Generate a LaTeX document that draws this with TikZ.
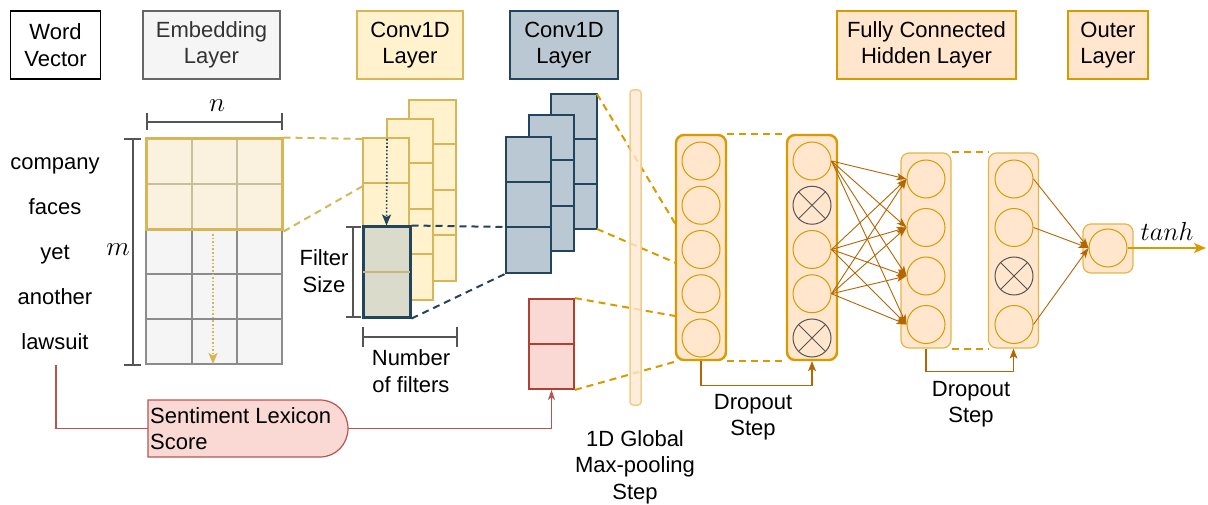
\documentclass[tikz,border=0pt]{standalone}
\usepackage{fontspec}
\setmainfont{Liberation Sans}
\usetikzlibrary{arrows.meta}

\definecolor{yelS}{HTML}{D6B656}
\definecolor{yelF}{HTML}{FFF2CC}
\definecolor{cellY}{HTML}{FAF2DE}
\definecolor{cellLine}{HTML}{C9BF9F}
\definecolor{blueS}{HTML}{23445D}
\definecolor{blueF}{HTML}{BAC8D3}
\definecolor{oraS}{HTML}{D79B00}
\definecolor{oraF}{HTML}{FFE6CC}
\definecolor{oraT}{HTML}{E3B54A}
\definecolor{brownA}{HTML}{B46504}
\definecolor{redS}{HTML}{AE4132}
\definecolor{redF}{HTML}{FAD9D5}
\definecolor{redL}{HTML}{B85450}
\definecolor{embF}{HTML}{F5F5F5}
\definecolor{embS}{HTML}{666666}
\definecolor{embT}{HTML}{333333}
\definecolor{gridG}{HTML}{8C8C8C}
\definecolor{filtF}{HTML}{DADBCA}
\definecolor{filtL}{HTML}{C4B583}
\definecolor{poolF}{HTML}{FFE9D2}
\definecolor{poolS}{HTML}{F2CD8A}
\definecolor{dimG}{HTML}{555555}

\begin{document}
\begin{tikzpicture}[x=1pt,y=-1pt,
  font=\fontsize{22}{26.5}\selectfont,
  hdr/.style={draw, line width=1.8pt, align=center, inner sep=0pt, minimum height=68pt},
  word/.style={inner sep=0pt, text height=15.8pt, text depth=4.6pt},
  lbl/.style={align=center, inner sep=0pt},
  mathlbl/.style={inner sep=0pt, font=\fontsize{24.88}{30}\selectfont},
  dim/.style={draw=dimG, line width=1.2pt},
  cellyel/.style={draw=yelS, fill=yelF, line width=1.8pt},
  cellblue/.style={draw=blueS, fill=blueF, line width=1.8pt},
  yeldash/.style={draw=yelS, line width=2pt, dash pattern=on 7pt off 5pt},
  bluedash/.style={draw=blueS, line width=2pt, dash pattern=on 7pt off 5pt},
  oradash/.style={draw=oraS, line width=2pt, dash pattern=on 7pt off 5pt},
  densebox/.style={draw=oraS, fill=oraF, line width=2.4pt, rounded corners=8pt, minimum width=50pt, inner sep=0pt},
  thinbox/.style={draw=oraT, fill=oraF, line width=1.2pt, rounded corners=8pt, minimum width=50pt, inner sep=0pt},
  neuron/.style={circle, draw=oraS, line width=1pt, minimum size=38pt, inner sep=0pt},
  dropped/.style={circle, draw=dimG, line width=1pt, minimum size=38pt, inner sep=0pt},
  tip/.style={-{Stealth[length=11pt,width=9pt,inset=2.5pt]}},
  fc/.style={draw=brownA, line width=0.9pt, -{Stealth[length=10pt,width=7pt,inset=2.5pt]}},
  drop/.style={draw=brownA, line width=1.1pt, -{Stealth[length=10pt,width=8pt,inset=2.5pt]}}
]
\useasboundingbox (0,0) rectangle (1208,505);

% ---------- layer headers ----------
\node[hdr, draw=black, fill=white, minimum width=90pt] (hWord) at (55.5,45) {Word\\Vector};
\node[hdr, draw=embS, fill=embF, text=embT, minimum width=137pt] (hEmb) at (211.5,45) {Embedding\\Layer};
\node[hdr, draw=yelS, fill=yelF, minimum width=106pt] (hConvA) at (410,45) {Conv1D\\Layer};
\node[hdr, draw=blueS, fill=blueF, minimum width=108pt] (hConvB) at (564,45) {Conv1D\\Layer};
\node[hdr, draw=oraS, fill=oraF, minimum width=179pt] (hFC) at (926.5,45) {Fully Connected\\Hidden Layer};
\node[hdr, draw=oraS, fill=oraF, minimum width=80pt] (hOut) at (1108,45) {Outer\\Layer};

% ---------- input words ----------
\node[word] (w1) at (55,163.5) {company};
\node[word] (w2) at (55,208.5) {faces};
\node[word] (w3) at (55,253.5) {yet};
\node[word] (w4) at (55,298.5) {another};
\node[word] (w5) at (55,343.5) {lawsuit};

% ---------- embedding matrix ----------
\fill[embF] (146,230) rectangle (282,364);
\foreach \x in {192,237} \draw[gridG, line width=1.2pt] (\x,230) -- (\x,364);
\foreach \y in {274,319} \draw[gridG, line width=1.2pt] (146,\y) -- (282,\y);
\draw[gridG, line width=1.2pt] (146,230) rectangle (282,364);
\fill[cellY] (146,139) rectangle (282,230);
\foreach \x in {192,237} \draw[cellLine, line width=1.2pt] (\x,139) -- (\x,230);
\draw[cellLine, line width=1.2pt] (146,184) -- (282,184);
\node[draw=yelS, line width=3pt, minimum width=136pt, minimum height=91pt, inner sep=0pt] (embWin) at (214,184.5) {};
\draw[yelS, line width=1.6pt, dotted, tip] (213,234) -- (213,364);

% dimension bars
\draw[dim] (147,122) -- (282,122);
\draw[dim] (147,113) -- (147,130);
\draw[dim] (282,113) -- (282,130);
\node[mathlbl] (nlab) at (217,106) {\scalebox{1.1}{$n$}};
\draw[dim] (133,139) -- (133,365);
\draw[dim] (124,139) -- (141,139);
\draw[dim] (124,365) -- (141,365);
\node[mathlbl] (mlab) at (118,250) {\scalebox{1.1}{$m$}};

% ---------- first convolution stack ----------
\draw[cellyel] (409,100) rectangle (456,281);
\foreach \y in {144,190,235} \draw[yelS, line width=1.8pt] (409,\y) -- (456,\y);
\draw[cellyel] (387,119) rectangle (433,300);
\foreach \y in {163,209,254} \draw[yelS, line width=1.8pt] (387,\y) -- (433,\y);
\draw[cellyel] (363,138) rectangle (409,228);
\draw[yelS, line width=1.8pt] (363,183) -- (409,183);
\coordinate (fTop) at (387,139);
\node[draw=blueS, fill=filtF, line width=3pt, minimum width=47pt, minimum height=90pt, inner sep=0pt] (filt) at (386.5,272) {};
\draw[filtL, line width=1.5pt] ([xshift=1.5pt]filt.west) -- ([xshift=-1.5pt]filt.east);
\draw[blueS, line width=1.6pt, dotted, tip] (fTop) -- (filt.north);

\draw[dim] (353,227) -- (353,317);
\draw[dim] (346,227) -- (361,227);
\draw[dim] (346,317) -- (361,317);
\node[lbl] (fsz) at (324,271) {Filter\\Size};
\draw[dim] (363,337) -- (457,337);
\draw[dim] (363,327) -- (363,347);
\draw[dim] (457,327) -- (457,347);
\node[lbl] (nfil) at (411,371) {Number\\of filters};

% mapping from embedding window to the filter
\draw[yeldash] (embWin.north east) -- (363,139);
\draw[yeldash] (embWin.south east) -- (363,186);

% ---------- second convolution stack ----------
\draw[cellblue] (551,94) rectangle (597,229);
\foreach \y in {139,184} \draw[blueS, line width=1.8pt] (551,\y) -- (597,\y);
\draw[cellblue] (529,115) rectangle (574,251);
\foreach \y in {160,206} \draw[blueS, line width=1.8pt] (529,\y) -- (574,\y);
\node[cellblue, minimum width=45pt, minimum height=136pt, inner sep=0pt] (convB) at (528.5,205) {};
\foreach \y in {182,227} \draw[blueS, line width=1.8pt] (506,\y) -- (551,\y);
\draw[bluedash] (filt.north east) -- (506,227);
\draw[bluedash] (filt.south east) -- (convB.south west);

% ---------- lexicon feature ----------
\node[draw=redS, fill=redF, line width=1.8pt, minimum width=45pt, minimum height=90pt, inner sep=0pt] (lex) at (551.5,344) {};
\draw[redS, line width=1.8pt] (lex.west) -- (lex.east);

% ---------- dense layers ----------
\node[densebox, minimum height=225pt] (d1) at (701,247.5) {};
\node[densebox, minimum height=225pt] (d2) at (812,247.5) {};
\foreach \i/\y in {1/161,2/205.25,3/249.5,4/293.75,5/338}
  \node[neuron] (a\i) at (701,\y) {};
\foreach \i/\y in {1/161,3/249.5,4/293.75}
  \node[neuron] (b\i) at (812,\y) {};
\foreach \i/\y in {2/205.25,5/338}{
  \node[dropped] (b\i) at (812,\y) {};
  \draw[dimG, line width=1pt] (b\i.north east) -- (b\i.south west);
  \draw[dimG, line width=1pt] (b\i.north west) -- (b\i.south east);
}
\draw[oradash] (d1.north east) -- (d2.north west);
\draw[oradash] (d1.south east) -- (d2.south west);

\node[thinbox, minimum height=195pt] (d3) at (926,250.5) {};
\node[thinbox, minimum height=195pt] (d4) at (1013.5,250.5) {};
\foreach \i/\y in {1/179,2/227.5,3/276,4/324.5}
  \node[neuron] (c\i) at (926,\y) {};
\foreach \i/\y in {1/179,2/227.5,4/324.5}
  \node[neuron] (e\i) at (1014,\y) {};
\node[dropped] (e3) at (1014,276) {};
\draw[dimG, line width=1pt] (e3.north east) -- (e3.south west);
\draw[dimG, line width=1pt] (e3.north west) -- (e3.south east);
\draw[oradash] (d3.north east) -- (d4.north west);
\draw[oradash] (d3.south east) -- (d4.south west);

\node[thinbox, minimum height=49pt] (dOut) at (1108,248.5) {};
\node[neuron] (o1) at (1108,248) {};

% max-pooled features feeding the first dense layer
\draw[oradash] (597,94) -- (676,225);
\draw[oradash] (597,229) -- (676,263);
\draw[oradash] (lex.north east) -- (675,316);
\draw[oradash] (lex.south east) -- (674,362);

% pooling bar, drawn over the links
\draw[draw=poolS, fill=poolF, fill opacity=0.8, line width=1.5pt, rounded corners=3pt] (630,90) rectangle (641,405);
\node[lbl] (pool) at (635,467) {1D Global\\Max-pooling\\Step};

% fully connected links
\foreach \s in {b1,b3,b4}
  \foreach \t in {c1,c2,c3,c4}
    \draw[fc] (\s.east) -- (\t.west);
\foreach \s in {e1,e2,e4}
  \draw[fc] (\s.east) -- (o1.west);

% dropout steps
\draw[drop] (d1.south) -- ([yshift=-24pt]d1.south) -| (d2.south);
\node[lbl] (drop1) at (753,417) {Dropout\\Step};
\draw[drop] (d3.south) -- ([yshift=-23pt]d3.south) -| (d4.south);
\node[lbl] (drop2) at (971,404) {Dropout\\Step};

% output activation
\coordinate (outEnd) at (1206,248);
\draw[draw=oraS, line width=2pt, -{Stealth[length=12pt,width=10pt,inset=3pt]}] (o1.east) -- (outEnd);
\node[mathlbl] (tanh) at (1167,231) {\scalebox{1.05}{$tanh$}};

% sentiment lexicon score path
\draw[draw=redL, fill=redF, line width=1.2pt]
  (148,400) -- (320,400) .. controls (336,400) and (348,413) .. (348,428.5)
  .. controls (348,444) and (336,457) .. (320,457) -- (148,457) -- cycle;
\coordinate (sentW) at (148,428.5);
\coordinate (sentE) at (348,428.5);
\node[anchor=west, align=left, inner sep=0pt] (sent) at (150,428.5) {Sentiment Lexicon\\Score};
\coordinate (lsStart) at (56,365);
\draw[redL, line width=1.2pt] (lsStart) |- (sentW);
\draw[redL, line width=1.2pt, -{Stealth[length=10pt,width=7pt,inset=2.5pt]}] (sentE) -| (lex.south);
\end{tikzpicture}
\end{document}
